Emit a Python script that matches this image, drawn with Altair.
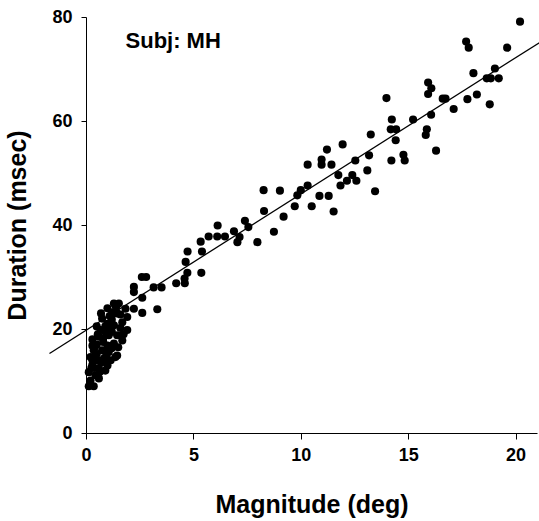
import altair as alt
import pandas as pd

# Scatter data: saccade magnitude (deg) vs duration (msec)
mag = [
    20.21, 17.70, 17.82, 19.61, 18.04, 19.04, 18.66, 18.85, 19.22, 18.20,
    17.76, 18.80, 15.93, 16.08, 15.93, 16.61, 16.74, 17.12, 16.07, 13.99,
    14.24, 15.23, 14.19, 14.44, 14.42, 15.87, 15.82, 16.30, 13.26, 11.95,
    11.22, 10.97, 10.97, 11.43, 10.32, 12.54, 13.18, 14.22, 14.78, 14.84,
    11.75, 12.40, 12.15, 12.59, 11.85, 13.10, 13.46, 10.32, 10.00, 9.84,
    9.03, 10.87, 11.30, 9.72, 10.51, 11.53, 9.20, 8.75,
    8.27, 8.29, 7.40, 7.56, 6.89, 7.15, 7.05, 7.98, 6.13, 5.71,
    6.11, 6.47, 5.34, 4.73, 5.40, 4.64, 4.72, 4.59, 5.37, 4.20,
    4.60, 3.15, 3.52, 2.60, 2.80, 2.23, 2.23, 2.62, 2.62, 3.32,
    1.30, 1.53, 1.84, 2.23, 1.22, 1.45, 1.92, 0.75, 0.99, 1.30,
    1.69, 1.92, 0.68, 0.91, 0.60, 1.06, 1.45, 1.69, 1.30, 0.36,
    0.75, 1.06, 1.37, 0.21, 0.52, 0.83, 0.29, 0.60, 0.13, 0.44,
    0.21, 0.13, 0.36, 0.96, 1.45,
    0.50, 0.80, 1.00, 1.20, 0.90, 1.10, 0.80, 1.00, 0.70, 0.40,
    0.30, 0.50, 1.20, 1.50, 1.60, 1.20, 1.40, 0.90, 0.30, 0.60,
    0.30, 0.50, 0.70, 1.00, 1.10, 0.40, 0.65, 0.95, 1.15, 0.25,
    0.55, 1.25, 1.60, 1.75,
]
dur = [
    79.1, 75.3, 74.1, 74.1, 69.2, 70.1, 68.2, 68.2, 68.2, 65.1,
    64.2, 63.2, 67.4, 66.3, 65.2, 64.3, 64.3, 62.3, 61.2, 64.4,
    60.3, 60.3, 58.4, 58.4, 56.3, 58.4, 57.3, 54.3, 57.4, 55.5,
    54.5, 52.6, 51.6, 51.6, 51.6, 52.4, 53.4, 52.4, 53.5, 52.4,
    49.6, 49.6, 48.5, 48.5, 47.6, 50.5, 46.5, 47.6, 46.7, 45.7,
    46.6, 45.6, 45.6, 43.6, 43.6, 42.6, 41.6, 38.7,
    46.7, 42.7, 40.8, 39.6, 38.8, 37.7, 36.7, 36.7, 39.9, 37.8,
    37.8, 37.8, 36.8, 34.9, 34.9, 32.9, 30.8, 29.7, 30.8, 28.8,
    28.8, 28.0, 28.0, 30.0, 30.0, 28.1, 27.1, 26.0, 23.1, 23.8,
    24.9, 24.9, 23.9, 23.9, 23.0, 23.0, 22.3, 22.0, 21.0, 20.7,
    21.3, 19.8, 19.8, 19.4, 18.5, 18.8, 18.8, 17.8, 17.2, 15.9,
    15.9, 15.6, 14.6, 14.6, 14.0, 14.3, 13.0, 12.4, 11.7, 11.1,
    10.1, 9.0, 9.0, 14.0, 14.9,
    17.0, 17.5, 16.8, 19.5, 20.5, 22.5, 18.2, 13.0, 13.5, 12.5,
    16.8, 15.2, 16.3, 16.5, 20.2, 21.8, 24.2, 12.0, 14.0, 10.5,
    18.0, 20.5, 23.0, 24.0, 20.0, 16.5, 11.8, 15.0, 14.0, 12.5,
    19.0, 23.2, 22.8, 19.0,
]

# Regression line parameters and drawn extent
intercept = 19.75
slope = 2.62
line_x = [-1.7, 21.13]

label_text = ["Subj: MH"]
label_x = [1.84]
label_y = [74.0]

FONT = "Liberation Sans"

pts = pd.DataFrame({"mag": mag, "dur": dur})
line_df = pd.DataFrame({"mag": line_x, "dur": [intercept + slope * v for v in line_x]})
lab_df = pd.DataFrame({"mag": label_x, "dur": label_y, "t": label_text})

xscale = alt.Scale(domain=[0, 21], nice=False, zero=False)
yscale = alt.Scale(domain=[0, 80], nice=False, zero=False)

xaxis = alt.Axis(
    title="Magnitude (deg)", values=[0, 5, 10, 15, 20], format="d",
    grid=False, domainColor="black", tickColor="black", tickSize=6,
    labelFont=FONT, labelFontSize=18, labelFontWeight="bold", labelColor="black",
    labelPadding=7, labelFlush=False,
    titleFont=FONT, titleFontSize=25, titleFontWeight="bold", titleColor="black",
    titleBaseline="alphabetic", titleY=79,
)
yaxis = alt.Axis(
    title="Duration (msec)", values=[0, 20, 40, 60, 80], format="d",
    grid=False, domainColor="black", tickColor="black", tickSize=5,
    labelFont=FONT, labelFontSize=18, labelFontWeight="bold", labelColor="black",
    labelPadding=9, labelFlush=False,
    titleFont=FONT, titleFontSize=25, titleFontWeight="bold", titleColor="black",
    titleBaseline="alphabetic", titleX=-61,
)

points = alt.Chart(pts).mark_circle(size=66, color="black", opacity=1).encode(
    x=alt.X("mag:Q", scale=xscale, axis=xaxis),
    y=alt.Y("dur:Q", scale=yscale, axis=yaxis),
)

line = alt.Chart(line_df).mark_line(color="black", strokeWidth=1.3, clip=False).encode(
    x=alt.X("mag:Q", scale=xscale),
    y=alt.Y("dur:Q", scale=yscale),
)

label = alt.Chart(lab_df).mark_text(
    font=FONT, fontSize=22, fontWeight="bold", color="black",
    align="left", baseline="alphabetic",
).encode(
    x=alt.X("mag:Q", scale=xscale),
    y=alt.Y("dur:Q", scale=yscale),
    text="t:N",
)

chart = alt.layer(line, points, label).properties(
    width=451, height=416,
    autosize=alt.AutoSizeParams(type="none"),
    padding={"left": 86, "top": 17, "right": 2, "bottom": 88},
    background="white",
).configure_view(stroke=None)

chart.save("out.html", embed_options={"renderer": "svg", "actions": False})
